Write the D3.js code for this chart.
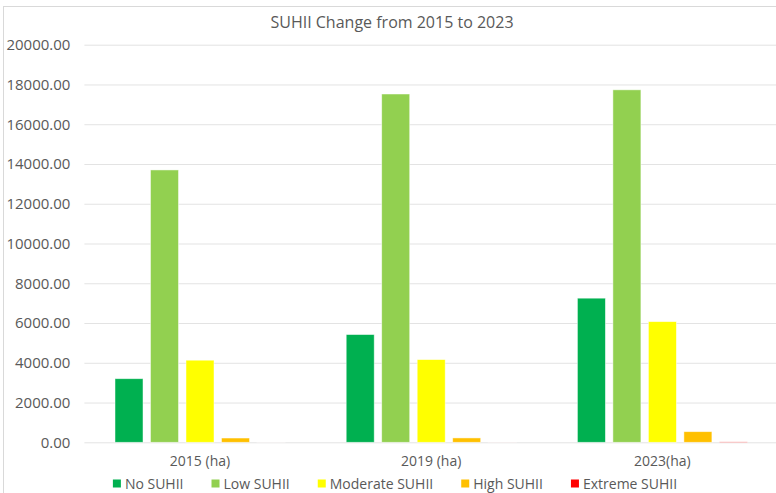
<!DOCTYPE html>
<html>
<meta charset="utf-8">
<head>
  <title>SUHII Change from 2015 to 2023</title>
</head>

<style>
body { margin: 0; background: #fff; }
text {
  font-family: "Open Sans", sans-serif;
  fill: #595959;
}
.tick line { stroke: #e3e3e3; }
.domain { display: none; }
</style>

<body>
  <div id="chart"></div>

  <script src="https://d3js.org/d3.v7.min.js"></script>
  <script>

// chart values
var years = ['2015 (ha)', '2019 (ha)', '2023(ha)'];
var seriesNames = ['No SUHII', 'Low SUHII', 'Moderate SUHII', 'High SUHII', 'Extreme SUHII'];
var seriesColors = ['#00B050', '#92D050', '#FFFF00', '#FFC000', '#FF0000'];
var noSuhii = [3200, 5420, 7250];
var lowSuhii = [13700, 17520, 17730];
var moderateSuhii = [4130, 4160, 6070];
var highSuhii = [215, 220, 535];
var extremeSuhii = [1, 2, 20];
var yTicks = [0, 2000, 4000, 6000, 8000, 10000, 12000, 14000, 16000, 18000, 20000];

var seriesValues = [noSuhii, lowSuhii, moderateSuhii, highSuhii, extremeSuhii];

var width = 776, height = 493;
var margin = {top: 44.7, left: 84.4, bottom: 442.3};

var svg = d3.select('#chart')
  .append('svg')
  .attr('width', width)
  .attr('height', height);

// chart border (right and bottom edges run off the picture)
svg.append('rect')
  .attr('x', 3.5)
  .attr('y', 6.5)
  .attr('width', width + 10)
  .attr('height', height + 10)
  .attr('fill', 'none')
  .attr('stroke', '#d9d9d9');

var y = d3.scaleLinear()
  .domain([0, 20000])
  .range([margin.bottom, margin.top]);

var x0 = d3.scaleBand()
  .domain(years)
  .range([margin.left, 778]);

var x1 = d3.scaleBand()
  .domain(seriesNames)
  .range([0, x0.bandwidth()])
  .paddingInner(0.211)
  .paddingOuter(0.862);

// gridlines + y labels
var yAxis = svg.append('g')
  .attr('transform', `translate(${margin.left},0)`)
  .call(d3.axisLeft(y)
    .tickValues(yTicks)
    .tickFormat(d3.format('.2f'))
    .tickSize(-(width - margin.left))
    .tickPadding(14));
yAxis.selectAll('text').style('font-size', '15px');

// bars
var groups = svg.append('g')
  .selectAll('g')
  .data(years)
  .join('g')
  .attr('transform', d => `translate(${x0(d)},0)`);

groups.selectAll('rect')
  .data((d, i) => seriesNames.map((s, k) => ({name: s, value: seriesValues[k][i], color: seriesColors[k]})))
  .join('rect')
  .attr('x', d => x1(d.name))
  .attr('y', d => y(d.value))
  .attr('width', x1.bandwidth())
  .attr('height', d => y(0) - y(d.value))
  .attr('fill', d => d.color)
  .attr('stroke', '#fff')
  .attr('stroke-opacity', 0.6)
  .attr('stroke-width', 0.8);

// category labels
svg.append('g')
  .selectAll('text')
  .data(years)
  .join('text')
  .attr('x', d => x0(d) + x0.bandwidth() / 2)
  .attr('y', 466)
  .attr('text-anchor', 'middle')
  .style('font-size', '14px')
  .text(d => d);

// title
svg.append('text')
  .attr('x', 392)
  .attr('y', 28)
  .attr('text-anchor', 'middle')
  .style('font-size', '16px')
  .text('SUHII Change from 2015 to 2023');

// legend
var legend = svg.append('g');
var items = legend.selectAll('g')
  .data(seriesNames)
  .join('g');
items.append('rect')
  .attr('width', 8)
  .attr('height', 8)
  .attr('y', 479.5)
  .attr('fill', (d, i) => seriesColors[i]);
items.append('text')
  .attr('x', 12)
  .attr('y', 489)
  .style('font-size', '14px')
  .text(d => d);

var pos = 0, gap = 28;
var offsets = [];
items.each(function(d) {
  offsets.push(pos);
  pos += this.getBBox().width + gap;
});
var total = pos - gap;
var start = 395 - total / 2;
items.attr('transform', (d, i) => `translate(${start + offsets[i]},0)`);

  </script>
</body>
</html>
